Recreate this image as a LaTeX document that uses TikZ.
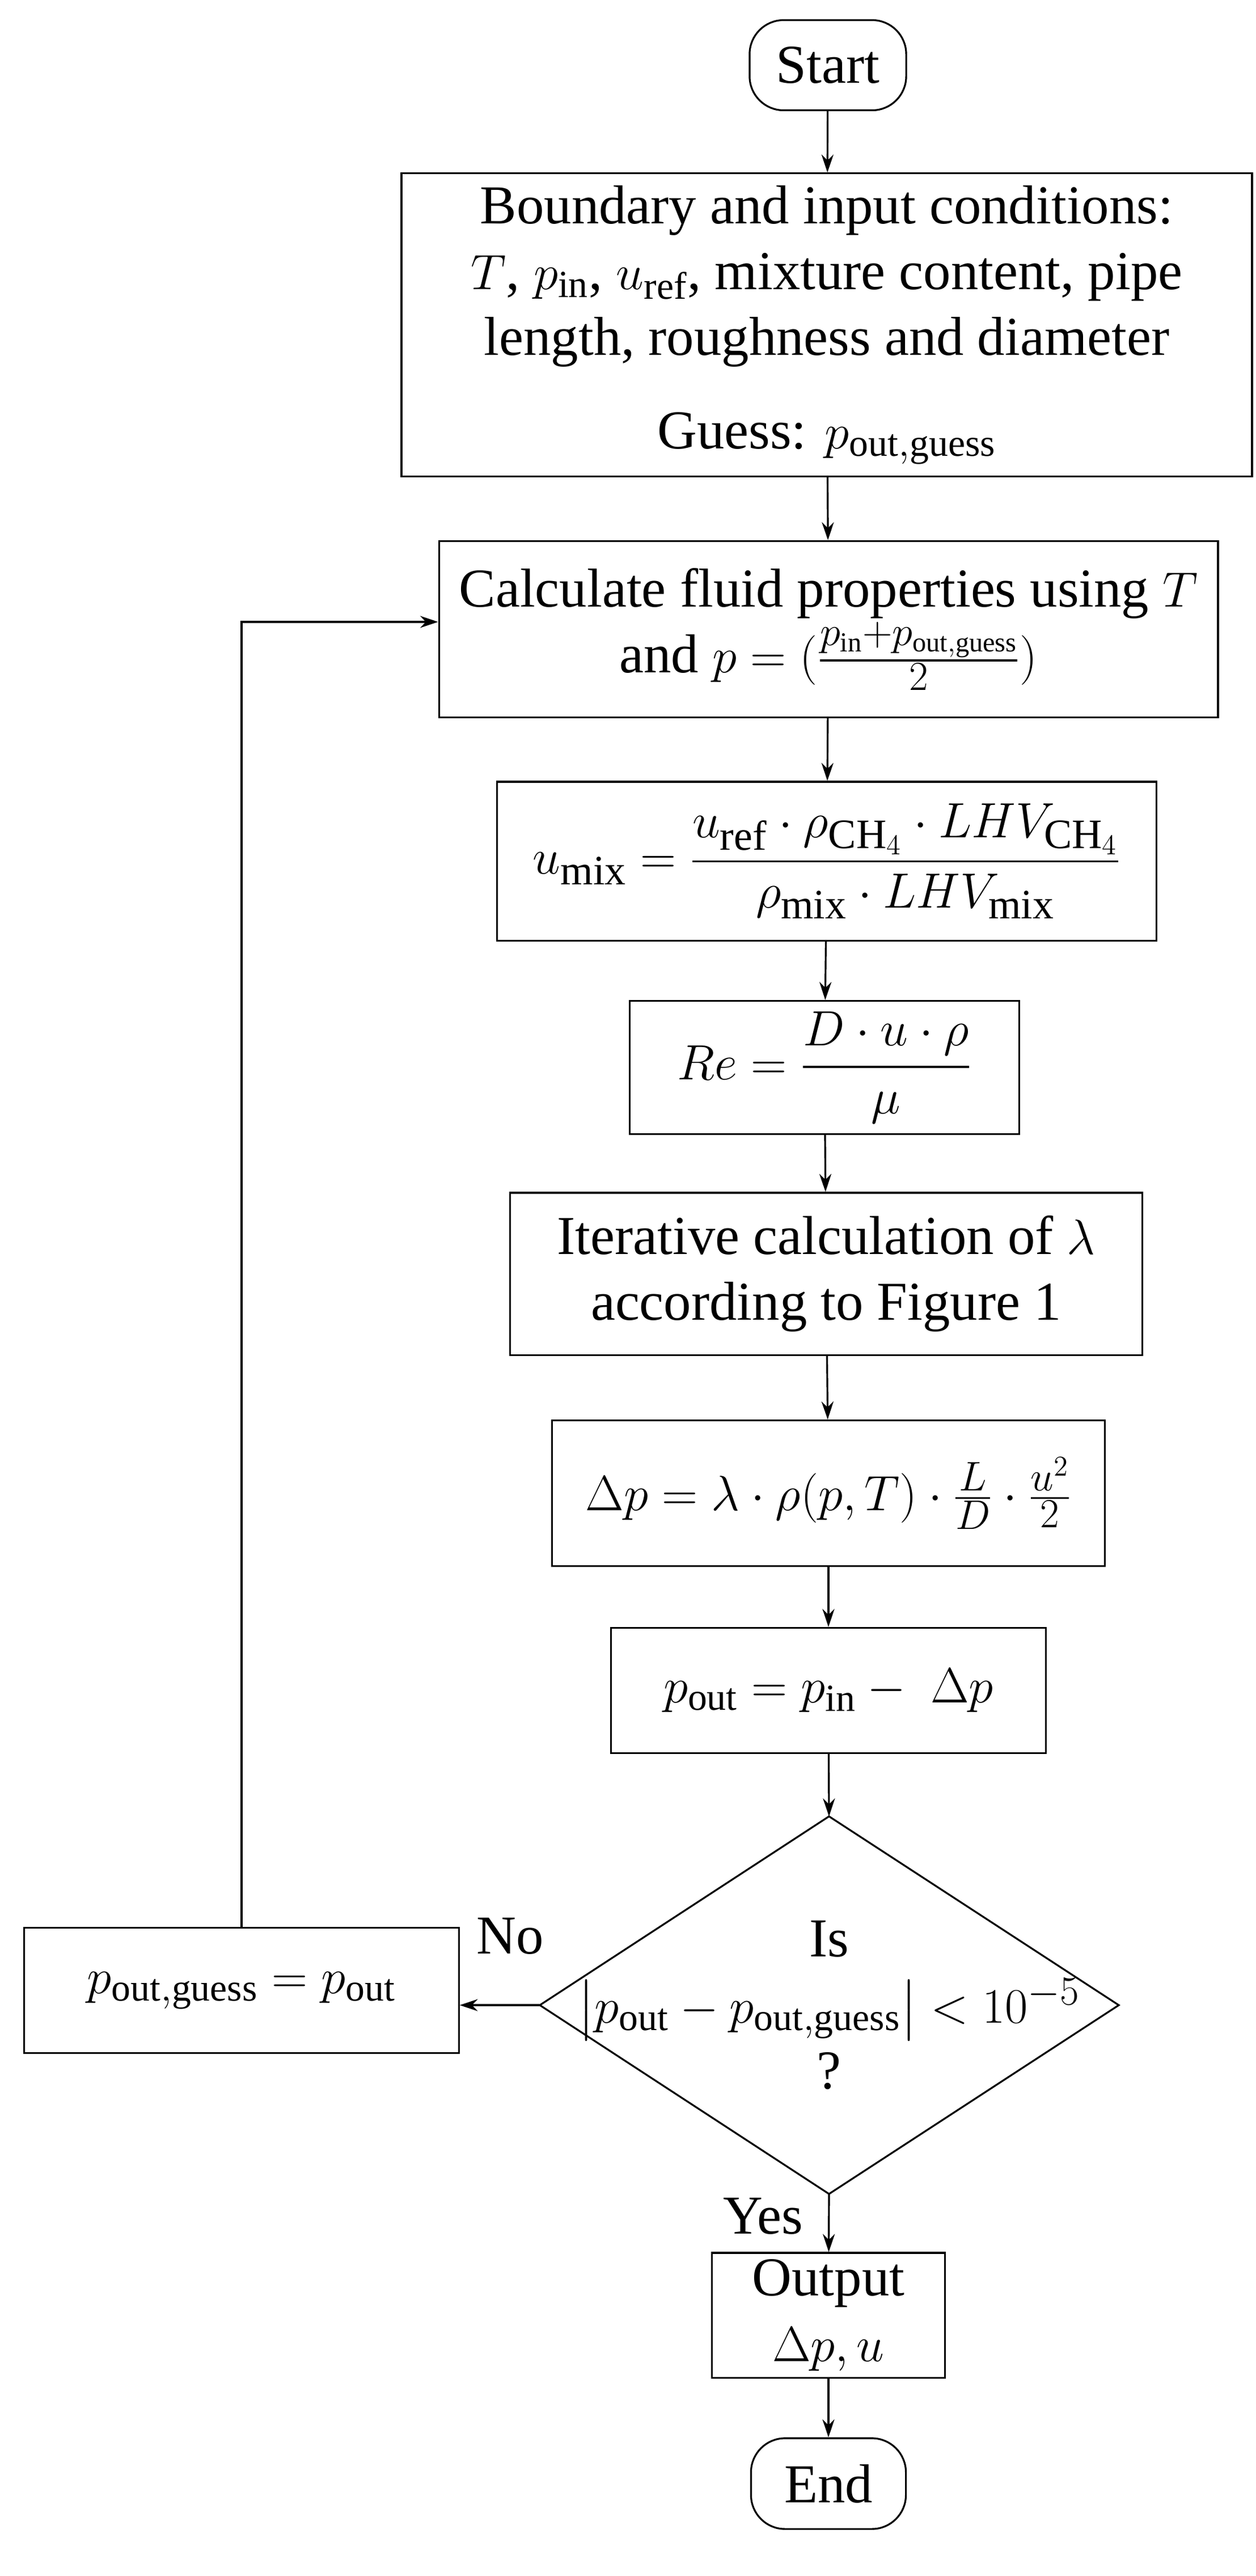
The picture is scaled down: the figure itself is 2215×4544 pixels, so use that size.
\documentclass[tikz,border=0pt]{standalone}
\usepackage{amsmath}
\usepackage{fontspec}
\setmainfont{Liberation Serif}
\usetikzlibrary{arrows.meta}
\begin{document}
\begin{tikzpicture}[x=0.01cm,y=-0.01cm,
  every node/.style={font=\fontsize{27.5}{33}\selectfont, align=center, inner sep=0pt},
  box/.style={draw, line width=0.9pt},
  term/.style={box, rounded corners=0.6cm},
  arr/.style={-{Stealth[length=9pt,width=6pt]}, line width=0.9pt}]
\useasboundingbox (0,0) rectangle (2215,4544);
\node[term, minimum width=2.76cm, minimum height=1.59cm] (start) at (1460,115) {Start};
\node[box, minimum width=14.99cm, minimum height=5.34cm] (bnd) at (1458,573) {Boundary and input conditions:\\ $T$, $p_\mathrm{in}$, $u_\mathrm{ref}$, mixture content, pipe\\ length, roughness and diameter\\[14pt] Guess: $p_\mathrm{out,guess}$};
\node[box, minimum width=13.73cm, minimum height=3.11cm] (calc) at (1461,1110) {Calculate fluid properties using $T$\\ and $p=(\frac{p_\mathrm{in}+p_\mathrm{out,guess}}{2})$};
\node[box, minimum width=11.63cm, minimum height=2.80cm, font=\fontsize{30}{36}\selectfont] (umix) at (1458,1519) {$u_\mathrm{mix}=\dfrac{u_\mathrm{ref}\cdot\rho_{\mathrm{CH}_4}\cdot LHV_{\mathrm{CH}_4}}{\rho_\mathrm{mix}\cdot LHV_\mathrm{mix}}$};
\node[box, minimum width=6.87cm, minimum height=2.35cm] (re) at (1454,1883) {$Re=\dfrac{D\cdot u\cdot\rho}{\mu}$};
\node[box, minimum width=11.14cm, minimum height=2.86cm] (iter) at (1457,2247) {Iterative calculation of $\lambda$\\ according to Figure 1};
\node[box, minimum width=9.75cm, minimum height=2.57cm] (dp) at (1461,2634) {$\Delta p=\lambda\cdot\rho(p,T)\cdot\frac{L}{D}\cdot\frac{u^2}{2}$};
\node[box, minimum width=7.67cm, minimum height=2.21cm] (pout) at (1461,2982) {$p_\mathrm{out}=p_\mathrm{in}-\ \Delta p$};
\coordinate (dc) at (1462,3537);
\draw[line width=0.9pt] (1462,3204) coordinate (dtop) -- (1973,3537) coordinate (dright) -- (1462,3870) coordinate (dbot) -- (952,3537) coordinate (dleft) -- cycle;
\node (dtext) at (dc) {Is\\ $\left|p_\mathrm{out}-p_\mathrm{out,guess}\right|<10^{-5}$\\ ?};
\node[box, minimum width=7.66cm, minimum height=2.21cm] (pg) at (426,3511) {$p_\mathrm{out,guess}=p_\mathrm{out}$};
\node[box, minimum width=4.11cm, minimum height=2.20cm] (out) at (1461,4084) {Output\\ $\Delta p, u$};
\node[term, minimum width=2.73cm, minimum height=1.60cm] (end) at (1461,4381) {End};
\node (no) at (900,3415) {No};
\node (yes) at (1346,3909) {Yes};
\draw[arr] (start) -- (bnd);
\draw[arr] (bnd) -- (calc);
\draw[arr] (calc) -- (umix);
\draw[arr] (umix) -- (re);
\draw[arr] (re) -- (iter);
\draw[arr] (iter) -- (dp);
\draw[arr] (dp) -- (pout);
\draw[arr] (pout) -- (dtop);
\draw[arr] (dleft) -- (pg.east |- dleft);
\draw[arr] (dbot) -- (out);
\draw[arr] (out) -- (end);
\draw[arr] (pg.north) |- ([yshift=0.13cm]calc.west);
\end{tikzpicture}
\end{document}
